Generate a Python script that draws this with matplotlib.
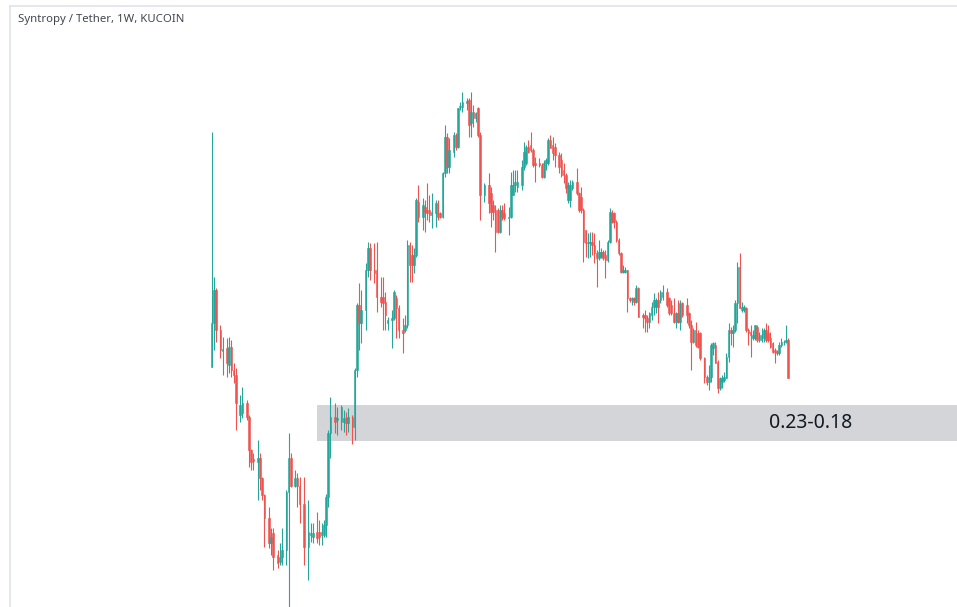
"""
Syntropy / Tether weekly candles (KUCOIN) with the 0.23-0.18 support zone.
"""

import matplotlib
matplotlib.use("Agg")
import matplotlib.pyplot as plt
import matplotlib.transforms as mtransforms
from matplotlib.lines import Line2D

TITLE = "Syntropy / Tether, 1W, KUCOIN"

# week number (from the first candle), open, high, low, close
weeks = [
    0, 1, 2, 4, 5, 7, 8, 9, 10, 11, 13, 14, 16, 17, 18, 19, 21, 22, 23, 24,
    26, 27, 28, 30, 31, 32, 34, 35, 36, 38, 39,
    40, 42, 44, 45, 46, 48, 49, 50, 51, 52, 53, 54, 56, 57, 59, 60, 61, 62,
    64, 65, 66, 67, 68, 70, 71, 72, 74, 75, 77, 78, 79, 80, 82, 83,
    84, 85, 87, 88, 89, 90, 91, 92, 93, 94, 96, 97, 98, 99, 100, 102, 103,
    104, 105, 106, 107, 108, 110, 111, 112, 113, 114, 116, 117, 118, 119,
    120, 121, 122, 124, 126,
    127, 128, 129, 130, 131, 132, 133, 135, 136, 137, 138, 139, 141, 142,
    143, 144, 145, 146, 147, 149, 150, 151, 152, 153, 154, 155, 156, 158,
    159, 160, 161, 162, 163, 164, 166, 167, 168, 169,
    170, 171, 172, 173, 174, 175, 176, 177, 178, 179, 180, 181, 182, 183,
    184, 185, 186, 187, 188, 189, 190, 191, 192, 193, 194, 196, 197, 198,
    199, 200, 201, 202, 203, 204, 205, 207, 208, 209, 210, 211, 212, 213, 214,
    216, 217, 218, 219, 220, 221, 222, 224, 225, 226, 227, 228, 229, 230,
    231, 232, 233, 234, 235, 236, 237, 238, 239, 240, 241, 242, 243, 244,
    245, 246, 247, 248, 249, 250, 251, 252, 253, 254, 255, 256, 257, 258,
    259, 260, 261, 262,
]

opens = [
    .298, .402, .503, .383, .332, .339, .302, .342, .292, .282, .215, .218,
    .233, .212, .169, .159, .156, .161, .140, .125, .107, .0901, .0963, .0831,
    .0791, .0819, .0859, .127, .161, .133, .140,
    .133, .117, .0877, .0951, .0938, .0969, .0969, .0951, .0951, .102, .123,
    .190, .212, .208, .205, .205, .210, .204, .212, .198, .292, .454, .402,
    .439, .576, .669, .576, .576, .480, .480, .462, .402, .410, .416,
    .476, .444, .383, .383, .396, .683, .637, .596, .637, .913, .825, .883,
    .865, .865, .836, .848, .848, .848, .825, 1.113, 1.421, 1.160, 1.283,
    1.441, 1.328, 1.744, 1.744, 1.791, 1.828, 1.563, 1.684, 1.617, 1.731,
    1.441, .958, 1.026,
    .971, .895, .865, .865, .744, .865, .848, .819, .825, .958, 1.026, 1.012,
    1.026, 1.160, 1.192, 1.328, 1.346, 1.301, 1.192, 1.192, 1.176, 1.084,
    1.192, 1.192, 1.392, 1.346, 1.328, 1.258, 1.216, 1.136, 1.099, .926,
    .926, 1.005, 1.046, .971, .945, .865,
    .755, .692, .692, .696, .683, .646, .624, .629, .650, .637, .616, .696,
    .848, .848, .798, .706, .646, .568, .568, .576, .476, .469, .476, .462,
    .510, .424, .424, .416, .404, .424, .447, .447, .469, .469, .480, .496,
    .476, .454, .430, .404, .430, .404, .460,
    .454, .430, .396, .353, .383, .375, .375, .316, .279, .269, .279, .339,
    .346, .308, .259, .269, .273, .277, .319, .383, .375, .383, .460, .588,
    .439, .439, .444, .383, .378, .363, .363, .391, .358, .358, .363, .383,
    .375, .363, .351, .334, .329, .327, .346, .353, .353, .358,
]

highs = [
    1.47, .550, .510, .396, .365, .363, .365, .358, .306, .295, .247, .260,
    .238, .215, .171, .166, .181, .166, .141, .126, .115, .100, .100, .0859,
    .0901, .100, .129, .190, .166, .148, .145,
    .141, .141, .121, .103, .103, .111, .105, .103, .105, .126, .194, .243,
    .233, .227, .230, .222, .219, .225, .215, .295, .460, .527, .503, .604,
    .696, .692, .692, .696, .550, .550, .496, .419, .439, .503,
    .486, .454, .416, .424, .706, .696, .683, .669, .939, 1.026, .939, .926,
    1.040, .958, .971, .926, .926, .853, 1.120, 1.542, 1.460, 1.411, 1.469,
    1.460, 1.731, 1.802, 1.929, 1.852, 1.852, 1.929, 1.768, 1.684, 1.744,
    1.469, 1.040, 1.113,
    1.012, .926, .895, .877, .895, .895, .907, .883, 1.120, 1.136, 1.136,
    1.136, 1.216, 1.373, 1.346, 1.392, 1.469, 1.318, 1.241, 1.232, 1.192,
    1.216, 1.232, 1.411, 1.441, 1.421, 1.364, 1.283, 1.275, 1.192, 1.113,
    1.046, 1.061, 1.061, 1.152, .977, 1.012, .877,
    .755, .740, .744, .744, .740, .659, .706, .669, .659, .659, .706, .877,
    .865, .853, .809, .715, .650, .596, .588, .576, .480, .480, .480, .520,
    .513, .430, .439, .424, .433, .462, .493, .476, .496, .503, .520, .510,
    .480, .469, .476, .433, .469, .469, .462,
    .476, .433, .410, .388, .404, .383, .378, .319, .282, .302, .351, .353,
    .353, .312, .279, .282, .288, .327, .402, .391, .396, .469, .607, .646,
    .462, .454, .447, .388, .396, .383, .396, .396, .378, .388, .388, .402,
    .396, .378, .353, .339, .334, .353, .363, .358, .396, .363,
]

lows = [
    .298, .334, .353, .316, .282, .279, .286, .279, .268, .194, .205, .210,
    .208, .151, .148, .148, .121, .129, .121, .0877, .0870, .0831, .0749,
    .0760, .0776, .0776, .0776, .0583, .132, .132, .115,
    .103, .0776, .0700, .0906, .0901, .0901, .0889, .0889, .0938, .0938,
    .115, .160, .190, .188, .194, .191, .188, .191, .177, .181, .279, .334,
    .351, .383, .550, .538, .527, .433, .447, .383, .383, .383, .339, .410,
    .363, .363, .327, .378, .388, .530, .530, .564, .629, .798, .755, .744,
    .809, .798, .766, .772, .809, .819, .819, 1.084, 1.113, 1.113, 1.241,
    1.301, 1.318, 1.708, 1.684, 1.708, 1.421, 1.421, 1.522, 1.573, 1.421,
    .809, .913, .848,
    .772, .809, .650, .740, .740, .809, .809, .730, .819, .958, .977, .977,
    .991, 1.136, 1.176, 1.275, 1.283, 1.160, 1.046, 1.160, 1.076, 1.076,
    1.136, 1.176, 1.318, 1.216, 1.160, 1.113, 1.084, 1.040, .971, .907,
    .883, .991, .958, .853, .848, .607,
    .629, .624, .629, .637, .604, .513, .616, .624, .616, .545, .607, .692,
    .793, .766, .696, .637, .564, .564, .564, .433, .462, .454, .454, .460,
    .419, .388, .378, .378, .388, .410, .424, .430, .402, .460, .469, .447,
    .424, .424, .402, .388, .402, .383, .419,
    .402, .388, .292, .351, .342, .339, .312, .268, .264, .255, .269, .323,
    .306, .250, .255, .259, .269, .277, .308, .346, .342, .378, .402, .444,
    .433, .433, .378, .346, .319, .358, .358, .353, .353, .353, .353, .353,
    .353, .339, .327, .306, .323, .323, .342, .346, .351, .277,
]

closes = [
    .402, .503, .383, .334, .337, .306, .342, .292, .282, .233, .230, .233,
    .212, .169, .156, .157, .161, .140, .125, .107, .0901, .0938, .0819,
    .0786, .0819, .0859, .127, .161, .133, .140, .133,
    .117, .0877, .0969, .0963, .0963, .0931, .0938, .0969, .102, .123, .190,
    .212, .205, .210, .227, .210, .204, .212, .198, .292, .454, .402, .439,
    .576, .669, .576, .564, .480, .462, .460, .424, .410, .416, .496,
    .444, .383, .375, .396, .683, .596, .596, .637, .926, .825, .895, .853,
    .848, .836, .853, .907, .825, .825, 1.113, 1.421, 1.160, 1.301, 1.441,
    1.328, 1.731, 1.755, 1.802, 1.815, 1.542, 1.684, 1.617, 1.674, 1.441,
    .958, 1.026, .907,
    .853, .853, .744, .744, .865, .825, .819, .825, 1.026, 1.026, 1.046,
    1.046, 1.160, 1.283, 1.328, 1.283, 1.301, 1.176, 1.176, 1.176, 1.084,
    1.192, 1.216, 1.392, 1.318, 1.275, 1.258, 1.160, 1.099, 1.099, 1.005,
    1.026, 1.026, 1.046, .971, .865, .865, .696,
    .692, .696, .696, .683, .646, .624, .650, .650, .624, .616, .696, .853,
    .798, .798, .706, .646, .568, .576, .576, .476, .469, .476, .462, .510,
    .419, .419, .416, .404, .430, .447, .469, .469, .447, .496, .496, .454,
    .430, .430, .404, .430, .404, .460, .424,
    .424, .396, .353, .383, .346, .342, .316, .279, .269, .279, .346, .351,
    .306, .259, .277, .277, .279, .319, .383, .375, .383, .460, .588, .444,
    .447, .447, .383, .375, .370, .370, .396, .358, .370, .370, .383, .358,
    .358, .342, .329, .329, .327, .346, .353, .353, .358, .277,
]

# support zone drawn from this week to the right edge
zone_start_week = 48
zone_low = 0.18
zone_high = 0.23
zone_label = "0.23-0.18"

UP = "#26a69a"
DOWN = "#ef5350"


def main():
    fig = plt.figure(figsize=(9.57, 6.07), dpi=100)
    fig.patch.set_facecolor("white")
    ax = fig.add_axes([0, 0, 1, 1])
    ax.set_yscale("log")
    ax.set_xlim(-96.2, 338.8)
    ax.set_ylim(0.0583, 3.606)
    ax.axis("off")

    # support zone
    ax.fill_between([zone_start_week, ax.get_xlim()[1]], zone_low, zone_high,
                    color="#d4d5d9", lw=0, zorder=1)
    trans = mtransforms.blended_transform_factory(ax.transAxes, ax.transData)
    ax.text(0.804, (zone_low * zone_high) ** 0.5, zone_label, transform=trans,
            ha="left", va="center", fontsize=14, color="#131722",
            family="Noto Sans", zorder=5)

    colors = [UP if c >= o else DOWN for o, c in zip(opens, closes)]
    ax.vlines(weeks, lows, highs, colors=colors, lw=0.8, zorder=2)
    bottoms = [min(o, c) for o, c in zip(opens, closes)]
    heights = [abs(c - o) for o, c in zip(opens, closes)]
    ax.bar(weeks, heights, bottom=bottoms, width=0.78, color=colors,
           edgecolor=colors, linewidth=0.4, zorder=3)

    # pane border and title
    fig.add_artist(Line2D([9.5 / 957, 1], [1 - 5.5 / 607, 1 - 5.5 / 607],
                          color="#e0e3eb", lw=1.2))
    fig.add_artist(Line2D([9.5 / 957, 9.5 / 957], [0, 1 - 5.5 / 607],
                          color="#e0e3eb", lw=1.2))
    fig.text(18 / 957, 1 - 19.5 / 607, TITLE, ha="left", va="center",
             fontsize=8.2, color="#434651", family="Noto Sans")

    fig.savefig("out.png", dpi=100)
    plt.close(fig)


if __name__ == "__main__":
    main()
